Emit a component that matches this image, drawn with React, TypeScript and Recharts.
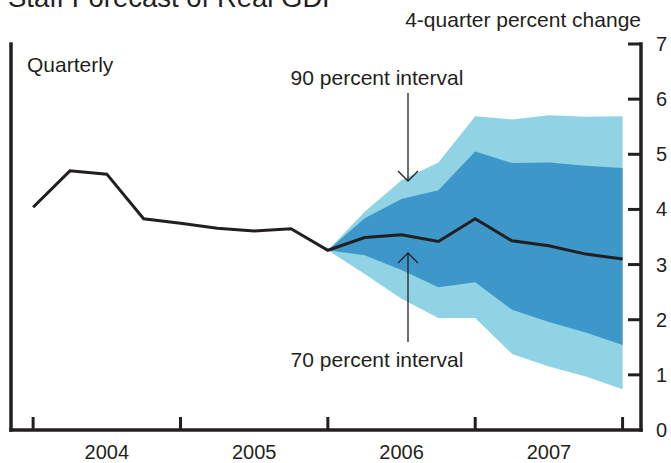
import React from 'react';
import { ComposedChart, Area, Line, XAxis, YAxis } from 'recharts';

// 2003:Q4 .. 2007:Q4, quarterly
const quarters = [
  '2003Q4', '2004Q1', '2004Q2', '2004Q3', '2004Q4',
  '2005Q1', '2005Q2', '2005Q3', '2005Q4',
  '2006Q1', '2006Q2', '2006Q3', '2006Q4',
  '2007Q1', '2007Q2', '2007Q3', '2007Q4',
];
const gdp = [4.04, 4.7, 4.64, 3.83, 3.75, 3.66, 3.61, 3.65, 3.26, 3.49, 3.54, 3.42, 3.83, 3.43, 3.34, 3.19, 3.1];

// forecast intervals start at 2005Q4 (index 8)
const lo90 = [3.26, 2.83, 2.38, 2.03, 2.03, 1.38, 1.15, 0.97, 0.74];
const hi90 = [3.26, 3.96, 4.53, 4.85, 5.69, 5.63, 5.71, 5.68, 5.69];
const lo70 = [3.26, 3.17, 2.9, 2.59, 2.68, 2.18, 1.96, 1.77, 1.54];
const hi70 = [3.26, 3.84, 4.19, 4.35, 5.05, 4.84, 4.85, 4.79, 4.75];
const forecastStart = 8;

const yearLabels = ['2004', '2005', '2006', '2007'];
const xTicks = [0, 2, 4, 6, 8, 10, 12, 14, 16];
const yTicks = [0, 1, 2, 3, 4, 5, 6, 7];

const ink = '#231f20';
const font = '"Liberation Sans", Arial, Helvetica, sans-serif';

const data = quarters.map((q, i) => {
  const k = i - forecastStart;
  return {
    i,
    q,
    gdp: gdp[i],
    band90: k >= 0 ? [lo90[k], hi90[k]] : null,
    band70: k >= 0 ? [lo70[k], hi70[k]] : null,
  };
});

const XTick = (props: any) => {
  const { x, y, payload } = props;
  const v = payload.value;
  if (v % 4 === 0) {
    return <line x1={x} x2={x} y1={y} y2={y - 13} stroke={ink} strokeWidth={3} />;
  }
  return (
    <text x={x} y={y + 29} textAnchor="middle" fontSize={20} fill={ink} fontFamily={font}>
      {yearLabels[(v - 2) / 4]}
    </text>
  );
};

const LeftTick = (props: any) => {
  const { x, y, payload } = props;
  if (payload.value === 0) return <g />;
  return <line x1={x} x2={x + 11} y1={y} y2={y} stroke={ink} strokeWidth={3} />;
};

const RightTick = (props: any) => {
  const { x, y, payload } = props;
  return (
    <g>
      {payload.value !== 0 && <line x1={x} x2={x - 13} y1={y} y2={y} stroke={ink} strokeWidth={3} />}
      <text x={x + 15} y={y + 7} fontSize={20} fill={ink} fontFamily={font}>
        {payload.value}
      </text>
    </g>
  );
};

export default function App() {
  return (
    <div style={{ position: 'absolute', left: 0, top: 0, width: 671, height: 463, background: '#fff' }}>
      <ComposedChart width={671} height={463} data={data} margin={{ top: 44, right: 0, bottom: 0, left: 0 }}>
        <XAxis
          dataKey="i"
          type="number"
          domain={[-0.6, 16.5]}
          allowDataOverflow
          ticks={xTicks}
          interval={0}
          height={33}
          tickSize={0}
          tickMargin={0}
          axisLine={{ stroke: ink, strokeWidth: 3.5, strokeLinecap: 'square' }}
          tickLine={false}
          tick={<XTick />}
        />
        <YAxis
          yAxisId="l"
          orientation="left"
          width={11}
          domain={[0, 7]}
          ticks={yTicks}
          interval={0}
          tickSize={0}
          tickMargin={0}
          axisLine={{ stroke: ink, strokeWidth: 3.5, strokeLinecap: 'square' }}
          tickLine={false}
          tick={<LeftTick />}
        />
        <YAxis
          yAxisId="r"
          orientation="right"
          width={30}
          domain={[0, 7]}
          ticks={yTicks}
          interval={0}
          tickSize={0}
          tickMargin={0}
          axisLine={{ stroke: ink, strokeWidth: 3.5, strokeLinecap: 'square' }}
          tickLine={false}
          tick={<RightTick />}
        />
        <Area
          yAxisId="r"
          dataKey="band90"
          type="linear"
          stroke="none"
          fill="#8fd3e4"
          fillOpacity={1}
          isAnimationActive={false}
          connectNulls={false}
        />
        <Area
          yAxisId="r"
          dataKey="band70"
          type="linear"
          stroke="none"
          fill="#3d97c8"
          fillOpacity={1}
          isAnimationActive={false}
          connectNulls={false}
        />
        <Line
          yAxisId="r"
          dataKey="gdp"
          type="linear"
          stroke={ink}
          strokeWidth={3}
          dot={false}
          isAnimationActive={false}
        />
      </ComposedChart>
      <svg
        width={671}
        height={463}
        style={{ position: 'absolute', left: 0, top: 0, pointerEvents: 'none' }}
        fontFamily={font}
        fill={ink}
      >
        <text x={8} y={7} fontSize={27.5}>Staff Forecast of Real GDP</text>
        <text x={641} y={27} fontSize={21} textAnchor="end">4-quarter percent change</text>
        <text x={27} y={72} fontSize={21}>Quarterly</text>
        <text x={377} y={85} fontSize={21} textAnchor="middle">90 percent interval</text>
        <line x1={408} x2={408} y1={93} y2={181} stroke={ink} strokeWidth={1.3} />
        <polyline points="398,171 408,181 418,171" fill="none" stroke={ink} strokeWidth={1.3} />
        <text x={377} y={367} fontSize={21} textAnchor="middle">70 percent interval</text>
        <line x1={408} x2={408} y1={342} y2={253} stroke={ink} strokeWidth={1.3} />
        <polyline points="398,263 408,253 418,263" fill="none" stroke={ink} strokeWidth={1.3} />
      </svg>
    </div>
  );
}
